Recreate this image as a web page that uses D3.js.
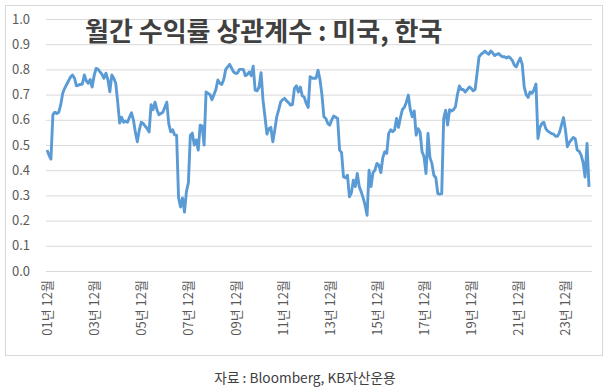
<!DOCTYPE html>
<html>
<head>
<meta charset="utf-8">
<script src="https://cdn.jsdelivr.net/npm/d3@7"></script>
<style>
  html, body { margin: 0; padding: 0; background: #fff; }
  svg { display: block; }
  text { font-family: "Noto Sans CJK KR", "Noto Sans", sans-serif; }
</style>
</head>
<body>
<svg id="chart" width="609" height="392"></svg>
<script>
// ---- data ----
const title = "월간 수익률 상관계수 : 미국, 한국";
const source = "자료 : Bloomberg, KB자산운용";
const startYear = 2001, startMonth = 12;
const yTicks = [0.0, 0.1, 0.2, 0.3, 0.4, 0.5, 0.6, 0.7, 0.8, 0.9, 1.0];
const xTickLabels = ["01년 12월","03년 12월","05년 12월","07년 12월","09년 12월","11년 12월",
                     "13년 12월","15년 12월","17년 12월","19년 12월","21년 12월","23년 12월"];
const correlation = [
  0.48,0.46,0.444,0.62,0.63,0.625,0.63,0.66,0.705,0.725,0.74,0.755,
  0.77,0.778,0.765,0.735,0.738,0.74,0.742,0.778,0.755,0.745,0.76,0.73,
  0.775,0.804,0.80,0.79,0.78,0.765,0.785,0.76,0.711,0.778,0.765,0.745,
  0.67,0.587,0.61,0.59,0.595,0.59,0.61,0.628,0.60,0.55,0.513,0.56,
  0.59,0.585,0.575,0.565,0.552,0.66,0.64,0.67,0.64,0.62,0.625,0.63,
  0.65,0.67,0.585,0.552,0.56,0.54,0.539,0.29,0.254,0.29,0.234,0.315,
  0.35,0.539,0.547,0.50,0.52,0.48,0.579,0.575,0.50,0.711,0.705,0.70,
  0.68,0.70,0.72,0.758,0.745,0.74,0.76,0.80,0.81,0.82,0.805,0.79,
  0.785,0.785,0.80,0.80,0.80,0.775,0.78,0.79,0.775,0.813,0.718,0.715,
  0.73,0.787,0.678,0.612,0.543,0.565,0.57,0.513,0.56,0.612,0.64,0.671,
  0.68,0.685,0.675,0.668,0.658,0.66,0.725,0.735,0.71,0.73,0.695,0.69,
  0.665,0.649,0.771,0.765,0.765,0.765,0.797,0.76,0.70,0.612,0.605,0.585,
  0.579,0.60,0.615,0.61,0.605,0.48,0.47,0.373,0.37,0.38,0.294,0.31,
  0.36,0.335,0.387,0.335,0.314,0.29,0.26,0.221,0.40,0.335,0.39,0.40,
  0.427,0.42,0.39,0.45,0.473,0.467,0.546,0.56,0.553,0.56,0.605,0.57,
  0.61,0.641,0.65,0.67,0.698,0.64,0.612,0.635,0.539,0.565,0.55,0.473,
  0.453,0.387,0.546,0.45,0.427,0.38,0.37,0.307,0.305,0.307,0.605,0.638,
  0.579,0.64,0.635,0.64,0.652,0.70,0.734,0.72,0.72,0.71,0.72,0.73,
  0.725,0.715,0.72,0.784,0.85,0.86,0.865,0.873,0.865,0.86,0.873,0.865,
  0.855,0.86,0.863,0.855,0.85,0.85,0.845,0.85,0.845,0.835,0.817,0.81,
  0.83,0.845,0.82,0.731,0.70,0.689,0.71,0.705,0.72,0.742,0.526,0.57,
  0.585,0.59,0.565,0.555,0.55,0.545,0.543,0.535,0.535,0.55,0.58,0.609,
  0.56,0.493,0.51,0.52,0.53,0.525,0.48,0.475,0.46,0.43,0.373,0.506,
  0.334
];

// ---- layout ----
const svg = d3.select("#chart");
const plotLeft = 46, plotRight = 592, plotTop = 19, plotBottom = 271;

svg.append("rect")
  .attr("x", 5.5).attr("y", 5.5).attr("width", 597).attr("height", 350)
  .attr("fill", "#fff").attr("stroke", "#d9d9d9").attr("stroke-width", 1);

const months = correlation.map((v, i) => i);
const x = d3.scalePoint().domain(months).range([47, 589]);
const y = d3.scaleLinear().domain([0, 1]).range([plotBottom, plotTop]);

// y axis + gridlines
const yAxis = svg.append("g")
  .attr("transform", `translate(${plotLeft},0)`)
  .call(d3.axisLeft(y).tickValues(yTicks).tickFormat(d3.format(".1f"))
        .tickSize(-(plotRight - plotLeft)).tickPadding(16));
yAxis.select(".domain").remove();
yAxis.selectAll(".tick line").attr("stroke", "#d9d9d9").attr("stroke-width", 1);
yAxis.selectAll(".tick text").attr("fill", "#595959").style("font-size", "13px");

// x axis labels
const tickIdx = xTickLabels.map((l, i) => i * 24);
const xAxis = svg.append("g")
  .attr("transform", `translate(0,${plotBottom})`)
  .call(d3.axisBottom(x).tickValues(tickIdx)
        .tickFormat((d, i) => xTickLabels[i]).tickSize(0));
xAxis.select(".domain").remove();
xAxis.selectAll(".tick text")
  .attr("fill", "#595959").style("font-size", "13px")
  .attr("text-anchor", "end")
  .attr("transform", "rotate(-90)")
  .attr("x", -9).attr("y", 0).attr("dy", "0.35em");

// line
const line = d3.line().x((d, i) => x(i)).y(d => y(d));
svg.append("path")
  .datum(correlation)
  .attr("fill", "none")
  .attr("stroke", "#5b9bd5")
  .attr("stroke-width", 2.9)
  .attr("stroke-linejoin", "round")
  .attr("d", line);

// title
svg.append("text")
  .attr("x", 85).attr("y", 41)
  .attr("fill", "#404040")
  .style("font-size", "26px").style("font-weight", "bold")
  .text(title);

// source
svg.append("text")
  .attr("x", 305).attr("y", 383)
  .attr("text-anchor", "middle")
  .attr("fill", "#404040")
  .style("font-size", "13.7px")
  .text(source);
</script>
</body>
</html>
